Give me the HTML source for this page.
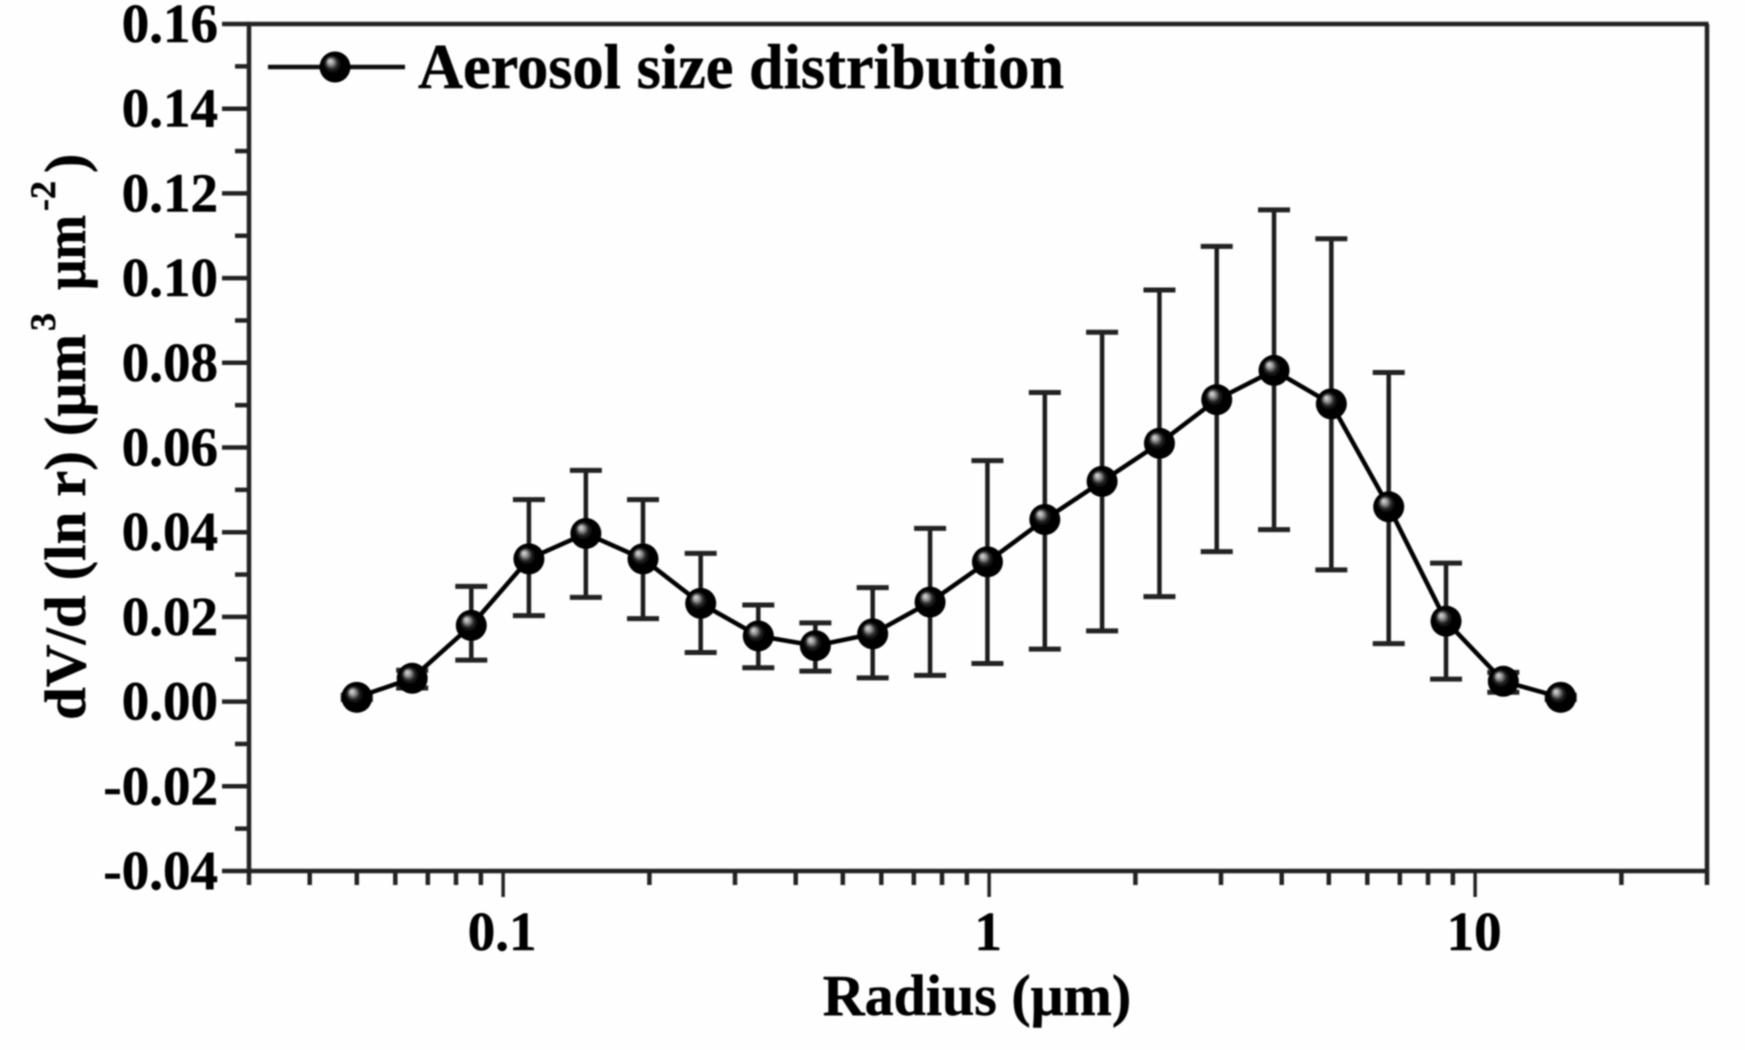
<!DOCTYPE html>
<html>
<head>
<meta charset="utf-8">
<title>Aerosol size distribution</title>
<style>
html,body{margin:0;padding:0;background:#fefefe;}
svg{display:block;}
text{font-family:"Liberation Serif",serif;font-weight:bold;fill:#050505;stroke:#050505;stroke-width:0.5px;}
</style>
</head>
<body>
<svg id="chart" xmlns="http://www.w3.org/2000/svg" width="1745" height="1050" viewBox="0 0 1745 1050">
<defs>
<filter id="soft" x="-5%" y="-5%" width="110%" height="110%"><feGaussianBlur stdDeviation="0.85"/></filter>
<radialGradient id="ball" cx="0.5" cy="0.5" r="0.55" fx="0.33" fy="0.3">
<stop offset="0" stop-color="#dcdcdc"/>
<stop offset="0.16" stop-color="#a0a0a0"/>
<stop offset="0.36" stop-color="#222"/>
<stop offset="0.55" stop-color="#000"/>
<stop offset="1" stop-color="#000"/>
</radialGradient>
</defs>
<rect width="1745" height="1050" fill="#fefefe"/>
<g id="plot" filter="url(#soft)">
<g id="axes"></g>
<g id="errors"></g>
<g id="series"></g>
<g id="labels"></g>
<g>
<line x1="268" y1="67" x2="405" y2="67" stroke="#111" stroke-width="4.5"/>
<circle cx="335" cy="67" r="15.5" fill="url(#ball)"/>
<text x="418" y="88" font-size="63" textLength="646" lengthAdjust="spacingAndGlyphs">Aerosol size distribution</text>
</g>
<text x="977" y="1015" font-size="58" text-anchor="middle">Radius (μm)</text>
<g transform="translate(85,720) rotate(-90)">
<text x="0" y="0" font-size="58" textLength="386" lengthAdjust="spacingAndGlyphs">dV/d (ln r) (μm</text>
<text x="389" y="-30" font-size="36">3</text>
<text x="430" y="0" font-size="58" textLength="75" lengthAdjust="spacingAndGlyphs">μm</text>
<text x="509" y="-30" font-size="36">-2</text>
<text x="547" y="0" font-size="58">)</text>
</g>
</g>
</svg>
<script>
const radius = [0.05,0.065,0.086,0.113,0.148,0.194,0.255,0.335,0.439,0.576,0.756,0.992,1.302,1.708,2.241,2.94,3.857,5.06,6.641,8.713,11.43,15.0];
const volume = [0.001,0.0055,0.018,0.0337,0.0397,0.0337,0.0232,0.0155,0.0132,0.016,0.0235,0.033,0.043,0.052,0.061,0.0713,0.0782,0.0703,0.046,0.019,0.0048,0.001];
const errorUpper = [0.0015,0.0074,0.0272,0.0477,0.0546,0.0477,0.035,0.0228,0.0186,0.0269,0.0409,0.0569,0.073,0.0872,0.0972,0.1075,0.1161,0.1093,0.0777,0.0327,0.0069,0.0015];
const errorLower = [0.0005,0.0032,0.0098,0.0203,0.0246,0.0196,0.0116,0.008,0.0072,0.0056,0.0062,0.009,0.0124,0.0167,0.0248,0.0354,0.0406,0.0311,0.0137,0.0053,0.0022,0.0005];
const yMajorTicks = [0.16,0.14,0.12,0.10,0.08,0.06,0.04,0.02,0.00,-0.02,-0.04];
const yMinorTicks = [0.15,0.13,0.11,0.09,0.07,0.05,0.03,0.01,-0.01,-0.03];
const xMajorTicks = [0.1,1,10];
const xMinorTicks = [0.03,0.04,0.05,0.06,0.07,0.08,0.09,0.2,0.3,0.4,0.5,0.6,0.7,0.8,0.9,2,3,4,5,6,7,8,9,20,30];
const xDomain = [0.03,30];
const yDomain = [-0.04,0.16];

const NS = 'http://www.w3.org/2000/svg';
const plotLeft = 249, plotRight = 1707, plotTop = 24, plotBottom = 871;
function xScale(v){
  return plotLeft + (Math.log10(v) - Math.log10(xDomain[0])) / (Math.log10(xDomain[1]) - Math.log10(xDomain[0])) * (plotRight - plotLeft);
}
function yScale(v){
  return plotBottom - (v - yDomain[0]) / (yDomain[1] - yDomain[0]) * (plotBottom - plotTop);
}
function makeLine(parent,x1,y1,x2,y2,stroke,width){
  const l = document.createElementNS(NS,'line');
  l.setAttribute('x1',x1);
  l.setAttribute('y1',y1);
  l.setAttribute('x2',x2);
  l.setAttribute('y2',y2);
  l.setAttribute('stroke',stroke);
  l.setAttribute('stroke-width',width);
  parent.appendChild(l);
  return l;
}
function makeText(parent,x,y,str,anchor,size){
  const t = document.createElementNS(NS,'text');
  t.setAttribute('x',x);
  t.setAttribute('y',y);
  t.setAttribute('text-anchor',anchor);
  t.setAttribute('font-size',size);
  t.textContent = str;
  parent.appendChild(t);
  return t;
}
const axes = document.getElementById('axes');
const errors = document.getElementById('errors');
const series = document.getElementById('series');
const labels = document.getElementById('labels');
const axisColor = '#222';

const frameTop = makeLine(axes,plotLeft-1.5,plotTop,plotRight+1.5,plotTop,axisColor,4.5);


const frameBottom = makeLine(axes,plotLeft-1.5,plotBottom,plotRight+1.5,plotBottom,axisColor,4.5);


const frameLeft = makeLine(axes,plotLeft,plotTop,plotLeft,plotBottom,axisColor,4.5);


const frameRight = makeLine(axes,plotRight,plotTop,plotRight,plotBottom,axisColor,4.5);



yMajorTicks.forEach(function(v){
  const tick = makeLine(axes,222,yScale(v),plotLeft,yScale(v),axisColor,4.5);
  
  
  const label = makeText(labels,218,yScale(v)+18,v.toFixed(2),'end',55);
  
  
});
yMinorTicks.forEach(function(v){
  const tick = makeLine(axes,235,yScale(v),plotLeft,yScale(v),axisColor,4.5);
  
  
});
xMajorTicks.forEach(function(v){
  const tick = makeLine(axes,xScale(v),plotBottom,xScale(v),897,axisColor,3.5);
  
  
  const label = makeText(labels,xScale(v)-1,950,String(v),'middle',55);
  
  
});
xMinorTicks.forEach(function(v){
  const tick = makeLine(axes,xScale(v),plotBottom,xScale(v),885,axisColor,4.5);
  
  
});

radius.forEach(function(r,i){
  const cx = xScale(r);
  const stem = makeLine(errors,cx,yScale(errorUpper[i]),cx,yScale(errorLower[i]),'#1c1c1c',4.5);
  
  
  const capTop = makeLine(errors,cx-16,yScale(errorUpper[i]),cx+16,yScale(errorUpper[i]),'#222',5);
  
  
  const capBottom = makeLine(errors,cx-16,yScale(errorLower[i]),cx+16,yScale(errorLower[i]),'#222',5);
  
  
});

const path = document.createElementNS(NS,'polyline');


path.setAttribute('points',radius.map(function(r,i){return xScale(r)+','+yScale(volume[i]);}).join(' '));
path.setAttribute('fill','none');
path.setAttribute('stroke','#050505');
path.setAttribute('stroke-width','4.5');
series.appendChild(path);

radius.forEach(function(r,i){
  const c = document.createElementNS(NS,'circle');
  
  
  c.setAttribute('cx',xScale(r));
  c.setAttribute('cy',yScale(volume[i]));
  c.setAttribute('r',15.5);
  c.setAttribute('fill','url(#ball)');
  series.appendChild(c);
});
</script>
</body>
</html>
